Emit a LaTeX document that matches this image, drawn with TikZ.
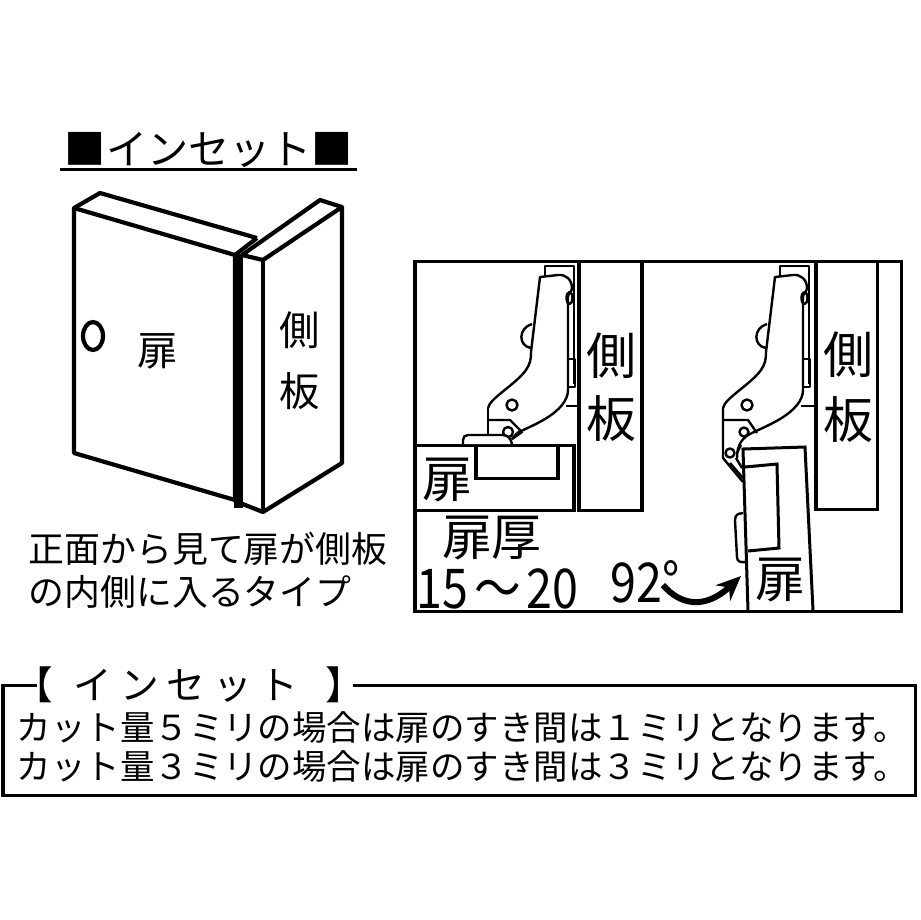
\documentclass[tikz,border=0pt]{standalone}
\usepackage{fontspec}
\setmainfont{Noto Sans CJK JP}
\usetikzlibrary{arrows.meta}
\tikzset{
	heavy/.style={line width=0.42mm, line join=round},
	frameline/.style={line width=0.3mm},
	hingeline/.style={line width=0.24mm, line join=round},
	label/.style={inner sep=0pt, anchor=center},
	sizea/.style={font=\fontsize{14.2}{16}\selectfont},
	sizeb/.style={font=\fontsize{10.2}{12}\selectfont},
	sizec/.style={font=\fontsize{9.8}{12}\selectfont},
	sized/.style={font=\fontsize{11.7}{14}\selectfont},
	sizee/.style={font=\fontsize{15.6}{18}\selectfont},
}
\def\hingearm(#1){
	\begin{scope}[shift={(#1,0)}]
		\draw[hingeline] (488,408) .. controls (490,398) and (515,385) .. (526,370) .. controls (530,364) and (531,360) .. (531,352) -- (540,277) -- (558,275) .. controls (566,274) and (572,280) .. (572,288) .. controls (572,292) and (568,293) .. (568,297) -- (568,390) .. controls (568,400) and (560,410) .. (545,419) .. controls (535,425) and (525,429) .. (517,433);
		\draw[hingeline] (545,276) -- (545,266) -- (574,266) -- (574,384);
		\draw[hingeline] (569.5,298) ellipse (3 and 6);
		\draw[hingeline] (532,324) .. controls (518,328) and (518,346) .. (531,348);
		\draw[hingeline] (568,359) rectangle (575,387);
		\draw[hingeline] (566,406) -- (579,406);
		\draw[hingeline] (512,405) circle (5.5);
	\end{scope}
}

\begin{document}
\begin{tikzpicture}[x=0.01cm, y=-0.01cm]
	\useasboundingbox (0, 0) rectangle (920, 920);
	%%%%% START %%%%%
	\node[label, sized] (title) at (209, 150) {■インセット■};
	\draw[line width=0.3mm] (60, 169) -- (357, 169);

	% door and side panel
	\draw[heavy] (74, 208) -- (235, 255) -- (235, 500) -- (74, 453) -- cycle;
	\draw[heavy] (74, 208) -- (100, 193) -- (257, 238);
	\draw[heavy] (235, 255) -- (257, 238);
	\draw[fill=black] (235, 255) rectangle (242, 507);
	\draw[heavy] (242, 255) -- (263, 260) -- (342, 207) -- (342, 463) -- (263, 512) -- (240, 503);
	\draw[heavy] (263, 260) -- (263, 512);
	\draw[heavy] (242, 255) -- (320, 200) -- (342, 207);
	\draw[heavy] (93, 336) ellipse (10 and 14);
	\node[label, font=\fontsize{11.5}{14}\selectfont] (doora) at (158, 351) {扉};
	\node[label, font=\fontsize{11.5}{14}\selectfont] (sidea) at (300, 330) {側};
	\node[label, font=\fontsize{11.5}{14}\selectfont] (sideb) at (300, 391) {板};
	\node[label, sizeb, anchor=west] (notea) at (28, 549) {正面から見て扉が側板};
	\node[label, sizeb, anchor=west] (noteb) at (28, 592) {の内側に入るタイプ};

	% hinge frame
	\draw[frameline] (415, 261) rectangle (902, 611);
	\draw[frameline] (579, 261) -- (579, 510) -- (642, 510) -- (642, 261);
	\draw[frameline] (816, 261) -- (816, 509) -- (878, 509) -- (878, 261);

	% closed door
	\draw[frameline] (415, 445) -- (574, 445) -- (574, 510) -- (415, 510);
	\draw[frameline] (476, 445) -- (476, 478) -- (558, 478) -- (558, 445);
	\hingearm(0)
	\draw[hingeline] (488, 408) -- (488, 436);
	\draw[hingeline] (488, 420) -- (510, 420) -- (522, 432) -- (512, 439);
	\draw[hingeline] (517, 433) -- (512, 439);
	\draw[hingeline] (508, 432) circle (5);
	\draw[hingeline, fill=white] (463, 444) -- (463, 440) .. controls (463, 437) and (465, 435) .. (468, 435) -- (503, 435) .. controls (508, 435) and (511, 439) .. (512, 444);
	\node[label, sizea] (doorb) at (447, 480) {扉};
	\node[label, sizea] (thick) at (492, 538) {扉厚};
	\node[label, sizee, xscale=0.85, anchor=west] (range) at (416, 589) {15\hspace{2pt}～\hspace{2pt}20};
	\node[label, sizea] (sidec) at (611, 356) {側};
	\node[label, sizea] (sided) at (611, 419) {板};

	% open door
	\hingearm(235)
	\draw[hingeline] (723, 408) -- (723, 458) -- (743, 482);
	\draw[hingeline] (723, 420) -- (748, 420) -- (757, 433);
	\draw[hingeline] (752, 433) .. controls (743, 437) and (737, 444) .. (737, 458);
	\draw[hingeline] (737, 453) -- (741, 445);
	\draw[hingeline] (730, 463) -- (743, 478);
	\draw[hingeline] (736, 458) -- (742, 468);
	\draw[hingeline] (744, 432) circle (4.5);
	\draw[hingeline] (730, 453) circle (4.5);
	\draw[frameline] (748, 610) -- (743, 449) -- (805, 447) -- (813, 610);
	\draw[frameline] (745, 467) -- (777, 464) -- (779, 548) -- (748, 551);
	\draw[hingeline] (743, 513) -- (738, 514) .. controls (736, 515) and (735, 517) .. (735, 520) -- (737, 557) .. controls (737, 561) and (740, 563) .. (746, 562);
	\node[label, sizea] (doorc) at (780, 580) {扉};
	\node[label, sizee, xscale=0.85, anchor=west] (angle) at (610, 582) {92°};
	\coordinate (arrowstart) at (663, 585);
	\coordinate (arrowend) at (741, 576);
	\draw[line width=0.6mm, -{Stealth[length=7pt, width=6pt]}] (arrowstart) .. controls (680, 605) and (705, 610) .. (arrowend);
	\node[label, sizea] (sidee) at (848, 355) {側};
	\node[label, sizea] (sidef) at (848, 420) {板};

	% note box
	\draw[frameline] (37, 685) -- (3, 685) -- (3, 795) -- (916, 795) -- (916, 685) -- (353, 685);
	\node[label, font=\fontsize{11}{14}\selectfont, anchor=west] (boxtitle) at (14, 685) {\addfontfeature{LetterSpace=20}【\hspace{5.8pt}インセット\hspace{7.7pt}】};
	\node[label, sizec, anchor=west] (boxa) at (16, 728) {カット量５ミリの場合は扉のすき間は１ミリとなります。};
	\node[label, sizec, anchor=west] (boxb) at (16, 767) {カット量３ミリの場合は扉のすき間は３ミリとなります。};
	%%%%% END %%%%%
\end{tikzpicture}
\end{document}
